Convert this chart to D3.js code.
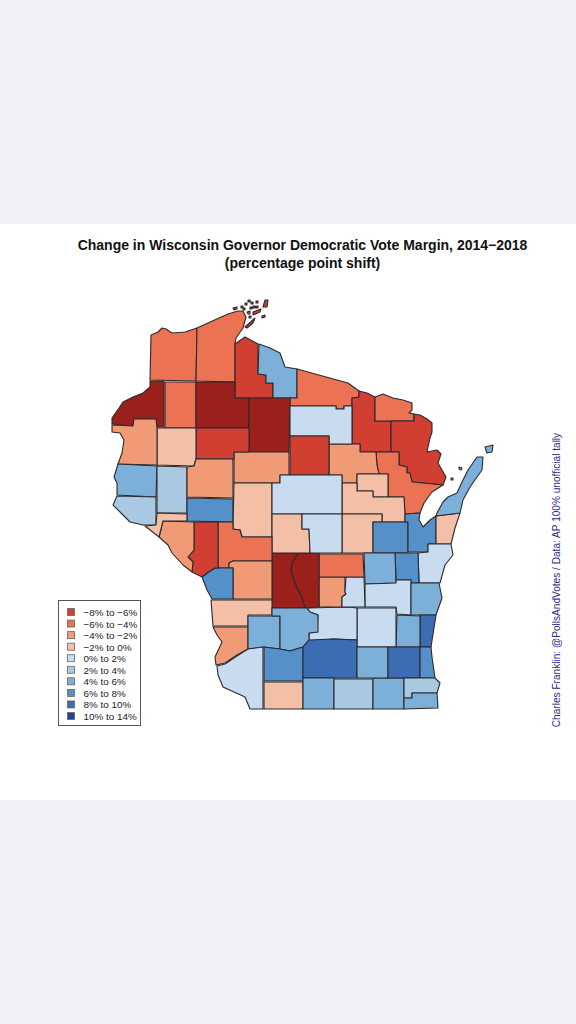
<!DOCTYPE html>
<html><head><meta charset="utf-8">
<script src="https://cdn.jsdelivr.net/npm/d3@7/dist/d3.min.js"></script>
<style>html,body{margin:0;padding:0;background:#f0f2f5}svg{display:block}text{font-family:"Liberation Sans",Arial,sans-serif}</style>
</head><body><svg id="c" width="576" height="1024"></svg>
<script>
const titleLines = ["Change in Wisconsin Governor Democratic Vote Margin, 2014\u22122018","(percentage point shift)"];
const credit = "Charles Franklin: @PollsAndVotes / Data: AP 100% unofficial tally";
const legendLabels = ["\u22128% to \u22126%","\u22126% to \u22124%","\u22124% to \u22122%","\u22122% to 0%","0% to 2%","2% to 4%","4% to 6%","6% to 8%","8% to 10%","10% to 14%"];
const breaks = [-8,-6,-4,-2,0,2,4,6,8,10];
const palette = ["#9b201c","#d03f31","#ec7254","#f09a76","#f3bfa6","#c9dbee","#a9c9e3","#7db0d8","#5590c8","#3c6cb2","#1f4593"];
const legendMids = [-7,-5,-3,-1,1,3,5,7,9,12];

const countyNames = ["Douglas","Bayfield","Ashland","Iron","Vilas","Forest","Florence","Marinette","Oconto","Langlade","Menominee","Shawano","Waupaca","Outagamie","Brown","Kewaunee","Door","Manitowoc","Calumet","Winnebago","Fond du Lac","Sheboygan","Ozaukee","Washington","Dodge","Columbia","Marquette","Green Lake","Waushara","Adams","Juneau","Burnett","Washburn","Sawyer","Price","Oneida","Lincoln","Taylor","Rusk","Barron","Polk","St. Croix","Pierce","Dunn","Chippewa","Eau Claire","Clark","Marathon","Wood","Portage","Jackson","Monroe","La Crosse","Trempealeau","Buffalo","Pepin","Vernon","Crawford","Richland","Sauk","Iowa","Grant","Lafayette","Dane","Green","Rock","Walworth","Jefferson","Waukesha","Milwaukee","Racine","Kenosha"];
const marginShift = [-5,-5,-7,5,-5,-7,-5,-7,-5,-3,-1,-1,-1,7,7,-1,5,1,7,5,1,5,9,5,1,1,-3,1,-5,-9,-9,-9,-5,-9,-9,1,-7,-3,-7,-1,-3,5,3,3,-3,7,-1,1,-1,1,-5,-3,7,-7,-3,-1,-1,-3,5,5,7,1,-1,9,5,3,5,5,9,7,3,5];
// Traced county outlines in map grid units, one list of rings per county
const countyRings = [
[[[151,335],[158,332],[162,328],[166,329],[172,333],[185,332],[197,328],[196,381],[150,380]]],
[[[197,328],[208,323],[219,318],[228,314],[238,311],[243,311],[246,317],[243,328],[236,338],[235,344],[235,382],[196,381]]],
[[[235,344],[245,337],[258,344],[258,374],[266,375],[266,383],[273,383],[273,398],[235,398]],[[265,300],[268,300],[267,307],[263,307]],[[253,312],[261,309],[260,312],[253,315]],[[245,327],[255,318],[253,323],[247,328]],[[247,312],[250,311],[250,314],[248,314]],[[233,308],[237,307],[237,309],[234,310]],[[241,306],[243,306],[243,308],[241,308]],[[245,303],[247,303],[247,305],[245,305]],[[248,300],[250,300],[250,302],[248,302]],[[251,302],[253,302],[253,304],[251,304]],[[256,301],[258,301],[258,303],[256,303]],[[243,308],[245,308],[245,310],[243,310]],[[250,307],[252,307],[252,309],[250,309]],[[253,306],[255,306],[255,308],[253,308]],[[256,306],[258,306],[258,308],[256,308]],[[249,316],[251,316],[251,318],[249,318]],[[262,316],[265,315],[265,317],[262,318]]],
[[[259,344],[270,348],[280,353],[285,367],[297,369],[297,398],[273,398],[273,383],[266,383],[266,375],[258,374]]],
[[[297,369],[348,383],[359,391],[359,397],[352,398],[352,406],[344,406],[344,409],[336,409],[336,406],[290,406],[290,398],[297,398]]],
[[[359,391],[367,393],[375,397],[375,421],[391,421],[391,452],[360,452],[360,444],[352,444],[352,398],[359,397]]],
[[[375,397],[383,394],[393,398],[403,400],[412,403],[412,410],[409,413],[414,414],[414,421],[375,421]]],
[[[391,421],[414,421],[414,414],[420,415],[427,419],[432,423],[432,432],[430,438],[427,452],[437,450],[441,454],[438,463],[446,477],[443,485],[423,483],[412,482],[410,473],[407,473],[407,467],[399,465],[399,452],[391,452]]],
[[[376,452],[399,452],[399,465],[407,467],[407,473],[410,473],[412,482],[423,483],[443,485],[432,492],[424,503],[420,513],[405,514],[404,497],[388,497],[388,474],[379,474],[377,465]]],
[[[329,444],[352,444],[360,444],[360,452],[376,452],[377,465],[379,474],[357,474],[357,483],[342,483],[342,475],[329,475]]],
[[[357,474],[388,474],[388,497],[373,497],[373,491],[357,491]]],
[[[342,483],[357,483],[357,491],[373,491],[373,497],[404,497],[405,514],[405,522],[382,522],[382,514],[342,514]]],
[[[342,514],[382,514],[382,522],[373,522],[373,553],[342,553]]],
[[[373,522],[408,522],[408,553],[373,553]]],
[[[405,514],[420,513],[419,520],[423,527],[430,520],[436,516],[436,544],[428,544],[428,552],[408,552],[408,522],[405,522]]],
[[[436,516],[460,513],[455,528],[451,544],[436,544]]],
[[[437,513],[443,502],[448,497],[457,493],[462,482],[468,470],[477,457],[483,457],[482,470],[477,477],[470,487],[463,500],[460,513],[436,516]],[[485,447],[493,445],[492,452],[487,453]],[[459,467],[462,468],[461,470],[459,469]],[[451,478],[453,478],[453,480],[451,480]]],
[[[428,544],[451,544],[453,555],[445,565],[440,583],[419,583],[418,553],[428,552]]],
[[[395,553],[418,553],[419,583],[411,583],[411,580],[396,580]]],
[[[364,553],[395,553],[396,583],[365,584]]],
[[[365,584],[396,583],[396,580],[411,580],[411,615],[397,614],[396,607],[365,607]]],
[[[411,583],[439,583],[442,598],[436,615],[411,615]]],
[[[420,615],[436,615],[431,647],[420,647]]],
[[[397,615],[420,616],[420,647],[396,647]]],
[[[357,608],[396,608],[396,647],[357,647]]],
[[[307,608],[348,607],[357,608],[357,640],[334,639],[309,641],[309,633],[317,632],[318,615],[310,612]]],
[[[319,577],[345,577],[345,592],[346,594],[342,597],[342,607],[319,607]]],
[[[346,577],[364,577],[365,607],[342,607],[342,597],[346,594],[345,592]]],
[[[319,554],[363,554],[364,577],[319,577]]],
[[[298,553],[319,553],[319,607],[305,608],[302,598],[295,583],[291,571],[292,563]]],
[[[272,553],[298,553],[292,563],[291,571],[295,583],[302,598],[305,608],[272,608]]],
[[[150,381],[164,381],[164,427],[157,427],[156,419],[134,419],[133,426],[112,424],[112,418],[119,408],[123,402],[133,397],[143,393],[150,387]]],
[[[165,382],[196,382],[196,428],[165,428]]],
[[[196,382],[235,382],[235,398],[249,398],[249,428],[196,428]]],
[[[249,398],[290,398],[289,452],[249,452]]],
[[[290,406],[336,406],[336,409],[344,409],[344,406],[352,406],[352,444],[329,444],[329,436],[290,436]]],
[[[290,436],[329,436],[329,475],[290,475]]],
[[[234,452],[289,452],[289,475],[280,475],[280,483],[234,483]]],
[[[196,428],[249,428],[249,452],[234,452],[234,459],[196,459]]],
[[[157,428],[196,428],[196,459],[194,466],[157,465]]],
[[[112,425],[133,426],[134,419],[156,419],[157,428],[157,465],[118,464],[122,453],[124,440],[120,433],[112,432]]],
[[[118,464],[157,466],[156,497],[117,495],[117,483],[114,477]]],
[[[117,496],[156,497],[156,525],[143,525],[130,522],[123,515],[113,505]]],
[[[157,466],[187,467],[187,513],[157,513]]],
[[[194,466],[196,459],[233,459],[233,498],[187,497],[187,467]]],
[[[187,498],[233,499],[233,522],[187,521]]],
[[[234,483],[272,483],[272,537],[242,537],[240,530],[233,529]]],
[[[280,475],[342,475],[342,514],[272,514],[272,483],[280,483]]],
[[[272,514],[302,514],[302,529],[309,529],[310,553],[272,553]]],
[[[302,514],[342,514],[342,553],[310,553],[309,529],[302,529]]],
[[[218,522],[233,522],[233,529],[240,530],[242,537],[272,537],[272,553],[272,561],[233,561],[229,563],[229,568],[218,568]]],
[[[229,563],[233,561],[272,561],[272,599],[233,599],[233,568],[229,568]]],
[[[202,577],[207,573],[215,568],[229,568],[233,568],[233,599],[212,599],[207,590]]],
[[[194,522],[218,522],[218,568],[215,568],[207,573],[202,577],[192,572],[193,562],[188,557],[194,550]]],
[[[163,521],[194,522],[194,550],[188,557],[193,562],[192,572],[183,565],[172,553],[168,545],[159,537]]],
[[[157,513],[187,514],[187,521],[163,521],[159,537],[145,526],[156,525]]],
[[[211,600],[272,600],[272,615],[248,615],[248,626],[213,626],[212,613]]],
[[[213,627],[248,627],[248,649],[237,655],[225,663],[216,665],[215,657],[222,642],[217,635]]],
[[[248,616],[280,616],[280,649],[263,647],[248,649]]],
[[[272,608],[307,608],[310,612],[318,615],[318,632],[309,633],[309,640],[303,647],[290,651],[280,649],[280,616],[272,616]]],
[[[264,647],[280,649],[290,651],[303,647],[303,681],[264,681]]],
[[[217,666],[225,664],[237,656],[248,649],[263,647],[263,709],[250,709],[245,697],[223,687],[218,675]]],
[[[264,682],[303,682],[303,709],[264,709]]],
[[[309,640],[334,639],[357,640],[357,678],[303,678],[303,647]]],
[[[303,678],[334,678],[334,709],[303,709]]],
[[[334,679],[373,679],[373,709],[334,709]]],
[[[373,678],[404,678],[404,709],[373,709]]],
[[[357,647],[388,647],[388,678],[357,678]]],
[[[388,647],[420,647],[420,678],[388,678]]],
[[[420,647],[431,647],[432,657],[435,678],[420,678]]],
[[[404,678],[435,678],[440,683],[437,693],[412,693],[412,698],[404,698]]],
[[[412,693],[437,693],[438,708],[404,709],[404,698],[412,698]]]
];

const svg = d3.select("#c");
svg.append("rect").attr("x",0).attr("y",224).attr("width",576).attr("height",576).attr("fill","#fff");

const color = d3.scaleThreshold().domain(breaks).range(palette);
const features = countyNames.map((name,i)=>({type:"Feature",properties:{name,shift:marginShift[i]},geometry:{type:"MultiPolygon",coordinates:countyRings[i].map(r=>[r.concat([r[0]])])}}));
const path = d3.geoPath(d3.geoIdentity());

svg.append("g").selectAll("path").data(features).join("path")
  .attr("d",path)
  .attr("fill",d=>color(d.properties.shift))
  .attr("stroke","#2a2a2e").attr("stroke-width",1.1).attr("stroke-linejoin","round");

svg.append("g").attr("text-anchor","middle").attr("font-weight","bold").attr("fill","#111")
  .selectAll("text").data(titleLines).join("text")
  .attr("x",302.5).attr("y",(d,i)=>250+i*18).attr("font-size",14).text(d=>d);

svg.append("text").attr("transform","translate(560,580) rotate(-90)").attr("text-anchor","middle")
  .attr("font-size",10.1).attr("fill","#2b2b80").text(credit);

const rowY = d3.scalePoint().domain(legendLabels).range([612,716]);
const lg = svg.append("g");
lg.append("rect").attr("x",58.5).attr("y",600.5).attr("width",82).attr("height",125).attr("fill","#fff").attr("stroke","#555").attr("stroke-width",1);
const rows = lg.selectAll("g").data(legendLabels).join("g").attr("transform",d=>`translate(0,${rowY(d)})`);
rows.append("rect").attr("x",67.5).attr("y",-3.5).attr("width",7).attr("height",7)
  .attr("fill",(d,i)=>color(legendMids[i])).attr("stroke","#666").attr("stroke-width",0.8);
rows.append("text").attr("x",83.5).attr("y",4).attr("font-size",9.9).attr("fill","#222").text(d=>d);
</script></body></html>
